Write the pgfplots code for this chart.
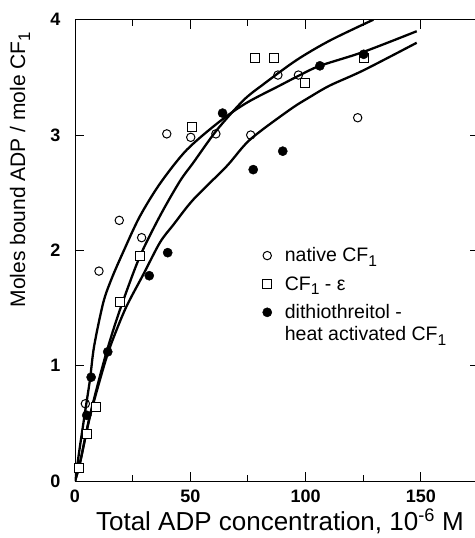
\documentclass[border=0pt]{standalone}
\usepackage{pgfplots}
\pgfplotsset{compat=1.18}
\usepackage{fontspec}
\setmainfont{Liberation Sans}
\newcommand{\sub}[1]{\raisebox{-0.45ex}{\scalebox{0.8}{#1}}}

\begin{document}
\begin{tikzpicture}
\begin{axis}[
  scale only axis,
  width=403.5bp, height=461.3bp,
  xmin=0, xmax=175, ymin=0, ymax=4,
  xtick={0,50,100,150}, minor xtick={25,75,125,175},
  ytick={0,1,2,3,4},
  tick align=inside,
  major tick length=9bp, minor tick length=6bp,
  axis line style={line width=0.9bp},
  every tick/.style={black, line width=0.9bp},
  tick label style={font=\fontsize{18bp}{20bp}\selectfont\bfseries},
  /pgf/number format/assume math mode=true,
  yticklabel style={xshift=-11bp},
  xticklabel style={yshift=-5bp},
  xlabel={Total ADP concentration, 10\textsuperscript{-6} M},
  ylabel={Moles bound ADP / mole CF\sub{1}},
  xlabel style={at={(axis description cs:0.508,0)}, anchor=center, yshift=-40bp,
    font=\fontsize{26bp}{30bp}\selectfont},
  ylabel style={at={(axis description cs:0,0.675)}, anchor=center, rotate=0,
    yshift=55bp, font=\fontsize{21bp}{25bp}\selectfont},
  legend style={draw=none, fill=none, at={(axis cs:80,2.05)}, anchor=north west,
    font=\fontsize{19.5bp}{22bp}\selectfont,
    row sep=11bp, column sep=12bp,
    nodes={inner sep=1bp},
    cells={anchor=west, align=left}},
  legend image code/.code={\draw[#1] plot coordinates {(0bp,0bp)};},
]
% fitted curves
\addplot[black, line width=2.3bp, smooth, forget plot] coordinates {
(0,0) (2,0.28) (4.3,0.59) (6.5,0.88) (8.3,1.17) (12.3,1.55) (16,1.76)
(21,1.99) (28,2.29) (36.9,2.58) (48.4,2.87) (62.9,3.12) (74.5,3.28)
(88.9,3.43) (97.6,3.52) (106.2,3.6) (125,3.72) (148.2,3.9)};
\addplot[black, line width=2.3bp, smooth, forget plot] coordinates {
(0,0) (2.2,0.16) (6.5,0.57) (12.3,1.02) (16.6,1.31) (21,1.57) (28.2,1.95)
(36.9,2.3) (45.5,2.6) (51.3,2.76) (61.4,3.04) (73,3.3) (81.7,3.44)
(96.1,3.65) (110.6,3.82) (129.4,4.0)};
\addplot[black, line width=2.3bp, smooth, forget plot] coordinates {
(0,0) (2.2,0.16) (6.5,0.56) (12.3,0.98) (15.9,1.2) (22,1.5) (29.6,1.79)
(36.9,2.07) (42.6,2.22) (51.3,2.44) (65.8,2.73) (75.9,2.96) (93.2,3.22)
(101.9,3.33) (110.6,3.43) (125,3.56) (148.2,3.8)};
% native CF1
\addplot[only marks, mark=o, mark size=4.2bp, black, line width=1bp,
  mark options={fill=white}] coordinates {
(4.5,0.67) (10.4,1.82) (19.2,2.26) (28.9,2.11) (39.8,3.01) (50.2,2.98)
(61.1,3.01) (76.2,3.00) (88.0,3.52) (96.9,3.52) (122.6,3.15)};
\addlegendentry{native CF\sub{1}}
% CF1 - epsilon
\addplot[only marks, mark=square*, mark size=4.5bp, black, line width=1bp,
  mark options={fill=white}] coordinates {
(1.9,0.11) (5.3,0.41) (9.0,0.64) (19.7,1.55) (28.2,1.95) (50.6,3.07)
(78.1,3.67) (86.4,3.67) (99.9,3.45) (125.2,3.67)};
\addlegendentry{CF\sub{1} - ε}
% DTT heat activated
\addplot[only marks, mark=*, mark size=4.6bp, black,
  legend image post style={yshift=11bp}] coordinates {
(5.1,0.57) (7.0,0.90) (14.2,1.12) (32.2,1.78) (40.2,1.98) (64.0,3.19)
(77.3,2.70) (90.1,2.86) (106.2,3.60) (125.2,3.70)};
\addlegendentry{dithiothreitol -\\heat activated CF\sub{1}}
\end{axis}
\pgfresetboundingbox
\path[use as bounding box] ([xshift=-75bp,yshift=-57bp]current axis.south west)
  rectangle ([xshift=-3.5bp,yshift=19.7bp]current axis.north east);
\end{tikzpicture}
\end{document}
